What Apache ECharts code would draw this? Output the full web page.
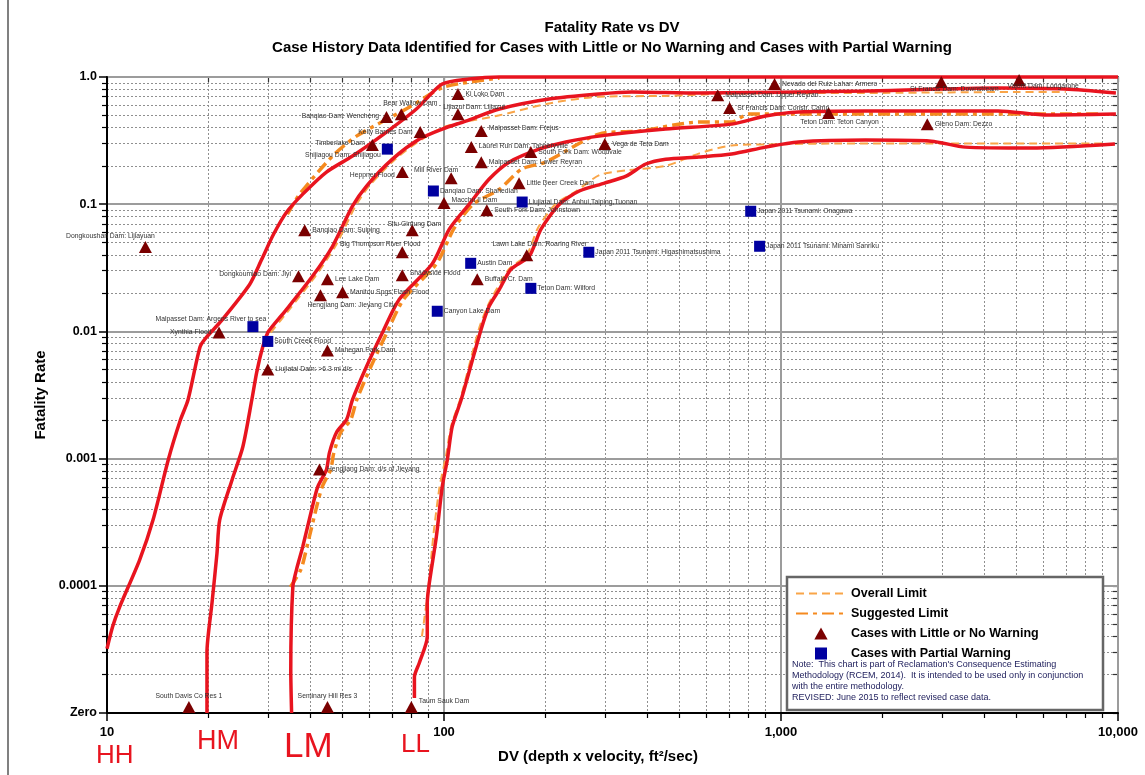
<!DOCTYPE html>
<html>
<head>
<meta charset="utf-8">
<script src="https://cdn.jsdelivr.net/npm/echarts@6/dist/echarts.min.js"></script>
<style>html,body{margin:0;padding:0;background:#fff;}#chart{width:1145px;height:775px;}</style>
</head>
<body>
<div id="chart"></div>
<script>
// ---------- DATA ----------
const ZERO = 1e-5; // plotted on the "Zero" line

const xTickValues = [10, 100, 1000, 10000];
const xTickLabels = ['10', '100', '1,000', '10,000'];
const yTickValues = [1e-5, 1e-4, 1e-3, 1e-2, 1e-1, 1];
const yTickLabels = ['Zero', '0.0001', '0.001', '0.01', '0.1', '1.0'];

// Cases with Little or No Warning
const triNames = ['Dongkoushan Dam: Lijiayuan','Ki Loko Dam','Lijiazui Dam: Lijiazui','Bear Wallow Dam','Banqiao Dam: Wencheng',
  'Kelly Barnes Dam','Timberlake Dam','Heppner Flood','Mill River Dam','Macchu II Dam','South Fork Dam: Johnstown',
  'Malpasset Dam: Frejus','Laurel Run Dam: Tanneryville','Malpasset Dam: Lower Reyran','South Fork Dam: Woodvale',
  'Vega de Tera Dam','Little Deer Creek Dam','Malpasset Dam: Upper Reyran','St Francis Dam: Constr. Camp',
  'Nevado del Ruiz Lahar: Armero','Teton Dam: Teton Canyon','St Francis Dam: Downstream','Gleno Dam: Dezzo',
  'Vajont Dam: Longarone','Situ Gintung Dam','Banqiao Dam: Suiping','Big Thompson River Flood','Dongkoumiao Dam: Jiyi',
  'Lee Lake Dam','Shadyside Flood','Manitou Spgs Flash Flood','Hengjiang Dam: Jieyang City','Xynthia Flood',
  'Mohegan Park Dam','Liujiatai Dam: >6.3 mi d/s','Hengjiang Dam: d/s of Jieyang','Lawn Lake Dam: Roaring River',
  'Buffalo Cr. Dam','South Davis Co Res 1','Seminary Hill Res 3','Taum Sauk Dam'];
const triDV = [13.0,110,110,74.7,67.5,85,61.3,75.2,105,100,134,129,120.5,129,181,300,167,649,704,957,1384,2990,2717,5088,
  80.5,38.6,75.2,37.0,45.1,75.2,50,43.0,21.5,45.1,30,42.7,176,125.5,17.5,45.1,80];
const triFR = [0.046,0.735,0.51,0.51,0.484,0.369,0.292,0.179,0.160,0.102,0.0897,0.376,0.281,0.214,0.257,0.297,0.146,0.72,0.57,
  0.88,0.52,0.913,0.426,0.947,0.0624,0.0624,0.0419,0.0271,0.0257,0.0276,0.0203,0.0192,0.0098,0.00708,0.00502,0.00082,
  0.0396,0.0257,ZERO,ZERO,ZERO];

// Cases with Partial Warning
const sqNames = ['Shijiagou Dam: Shijiagou','Danqiao Dam: Shahedian','Liujiatai Dam: Anhui,Taiping,Tuonan',
  'Japan 2011 Tsunami: Onagawa','Japan 2011 Tsunami: Minami Sanriku','Japan 2011 Tsunami: Higashimatsushima',
  'Austin Dam','Teton Dam: Wilford','Canyon Lake Dam','Malpasset Dam: Argens River to sea','South Creek Flood'];
const sqDV = [67.9,93,170.6,813,864,269,120,181,95.5,27.1,30];
const sqFR = [0.271,0.127,0.104,0.088,0.0467,0.0419,0.0343,0.0218,0.0144,0.0109,0.00834];

// Hand-drawn red curves [DV, fatality rate]
const curveHH = [[10,3.2e-5],[10.4,4.8e-5],[10.9,6.8e-5],[12.5,1.6e-4],[13.7,3.3e-4],[15.2,9.8e-4],[16.5,2.0e-3],[17.4,2.9e-3],
  [18.9,7.6e-3],[19.8,9.1e-3],[21.6,0.0117],[26.5,0.0234],[28.8,0.037],[31.2,0.058],[34.1,0.0865],[38.1,0.12],[44.8,0.179],
  [53.5,0.239],[67.5,0.369],[82.8,0.56],[98.8,0.88],[118.8,0.964],[146,1.0],[10000,1.0]];
const curveHM = [[19.8,1e-5],[19.8,3.0e-5],[20.5,7.4e-5],[21.2,1.8e-4],[21.6,3.3e-4],[23.5,6.8e-4],[25.3,1.24e-3],[26.9,2.9e-3],
  [27.8,4.75e-3],[29.0,7.6e-3],[30.0,9.8e-3],[31.0,0.011],[34.1,0.0149],[40.7,0.0271],[46.7,0.0467],[53.5,0.0964],[58.9,0.139],
  [70.3,0.226],[84.5,0.325],[98.8,0.39],[116,0.45],[146,0.56],[205,0.671],[288,0.735],[361,0.762],[570,0.748],[1780,0.776],
  [4410,0.819],[6963,0.804],[9858,0.748]];
const curveLM = [[35.3,1e-5],[35.1,2.2e-5],[35.6,9.8e-5],[36.5,1.34e-4],[38.1,2.03e-4],[40.7,4.2e-4],[42.2,6.0e-4],[44.8,8.2e-4],
  [45.7,1.11e-3],[48.0,1.61e-3],[51.4,2.03e-3],[53.5,2.9e-3],[58.9,5.3e-3],[65.7,9.8e-3],[73.7,0.0179],[92.3,0.034],
  [103.7,0.0636],[118.8,0.1],[136,0.157],[156,0.214],[191.5,0.271],[230,0.308],[288,0.343],[455,0.39],[714,0.426],
  [900,0.493],[1127,0.53],[1780,0.54],[4410,0.54],[6199,0.502],[9858,0.511]];
const curveLL = [[81.7,1.31e-5],[81.7,1.92e-5],[84.5,2.48e-5],[89.2,3.97e-5],[89.2,7.35e-5],[90.5,1.06e-4],[94.9,2.43e-4],
  [98.8,6.0e-4],[102.3,9.8e-4],[105.8,1.79e-3],[112.5,2.91e-3],[128.9,0.0104],[136,0.0157],[146,0.0214],[158,0.0308],
  [179,0.039],[194,0.0636],[220,0.1],[252,0.127],[298,0.146],[347,0.166],[397,0.207],[455,0.226],[570,0.235],[714,0.248],
  [900,0.281],[1127,0.308],[1780,0.319],[2792,0.313],[3521,0.281],[5523,0.276],[9790,0.297]];

// Orange limit curves (mostly hidden under the red ones)
const suggestedUpper = [[34.3,0.0834],[37.3,0.12],[46.7,0.239],[55.0,0.343],[79.1,0.58],[100,0.834],[146,0.98]];
const overallUpper = [[30.6,0.0098],[34.8,0.0149],[41.5,0.0271],[47.6,0.0467],[54.6,0.0964],[60,0.139],[71.7,0.226],
  [86.2,0.325],[101.6,0.41],[146,0.5],[205,0.62],[288,0.7],[455,0.71],[714,0.74],[2000,0.75],[5000,0.762],[7000,0.762]];
const suggestedLower = [[35.0,9.8e-5],[37.6,1.34e-4],[39.2,2.03e-4],[41.9,4.2e-4],[43.5,6e-4],[46.1,8.2e-4],[47.1,1.11e-3],
  [49.4,1.61e-3],[52.9,2.03e-3],[55.1,2.9e-3],[60.7,5.3e-3],[67.7,9.8e-3],[75.9,0.0179],[95,0.034],[106.8,0.0636],[122,0.1],
  [146,0.131],[170,0.189],[200,0.214],[288,0.356],[380,0.376],[570,0.442],[714,0.442],[800,0.511],[3000,0.511],[9000,0.511]];
const overallLower = [[86,4e-5],[90,1e-4],[93,2.5e-4],[97,6e-4],[101,1e-3],[105,1.8e-3],[112,3e-3],[127,0.0105],[135,0.016],
  [144,0.022],[156,0.031],[176,0.04],[190,0.065],[214,0.1],[245,0.125],[290,0.17],[350,0.185],[455,0.2],[570,0.25],[714,0.29],
  [900,0.295],[1500,0.3],[3000,0.3],[5500,0.3],[9000,0.3]];

// ---------- STYLE ----------
const FONT = '"Liberation Sans", Arial, sans-serif';
const RED = '#e8141f';
const TRI_COLOR = '#7a0000';
const SQ_COLOR = '#0000a0';
// label placement per case: [position, dx, dy]
const labelPlace = {
  'Dongkoushan Dam: Lijiayuan':['top',-35,0], 'Lijiazui Dam: Lijiazui':['top',16,3], 'Bear Wallow Dam':['top',9,-1],
  'Banqiao Dam: Wencheng':['left',0,-1], 'Kelly Barnes Dam':['left',0,0], 'Timberlake Dam':['left',0,-2],
  'Heppner Flood':['left',0,3], 'Mill River Dam':['top',-15,2], 'Macchu II Dam':['right',0,-3],
  'Malpasset Dam: Frejus':['right',0,-3], 'Laurel Run Dam: Tanneryville':['right',0,-1],
  'Teton Dam: Teton Canyon':['bottom',11,-2], 'St Francis Dam: Downstream':['bottom',13,-3],
  'Vajont Dam: Longarone':['bottom',24,-4], 'Situ Gintung Dam':['top',2,4], 'Big Thompson River Flood':['top',-22,2],
  'Dongkoumiao Dam: Jiyi':['left',0,-2], 'Shadyside Flood':['right',0,-2], 'Hengjiang Dam: Jieyang City':['bottom',31,-1],
  'Xynthia Flood':['left',0,0], 'Lawn Lake Dam: Roaring River':['top',13,-1], 'South Davis Co Res 1':['top',0,0],
  'Seminary Hill Res 3':['top',0,0], 'Taum Sauk Dam':['right',0,-6],
  'Shijiagou Dam: Shijiagou':['left',0,6], 'Malpasset Dam: Argens River to sea':['top',-42,2]
};
function pointLabel(name) {
  const p = labelPlace[name] || ['right', 0, 0];
  return { position: p[0], offset: [p[1], p[2]] };
}

// minor (2..9) tick positions in log10 space
function minorLog(fromDec, toDec) {
  const out = [];
  for (let d = fromDec; d < toDec; d++) for (let k = 2; k <= 9; k++) out.push(d + Math.log10(k));
  return out;
}
function allLog(fromDec, toDec) {
  const out = minorLog(fromDec, toDec);
  for (let d = fromDec; d <= toDec; d++) out.push(d);
  return out;
}
function matchLabel(v, vals, labels) {
  for (let i = 0; i < vals.length; i++) if (Math.abs(Math.log10(v) - Math.log10(vals[i])) < 1e-6) return labels[i];
  return '';
}

const chart = echarts.init(document.getElementById('chart'), null, { renderer: 'canvas' });

const redLine = (name, data) => ({
  type: 'line', name: name, data: data, xAxisIndex: 0, yAxisIndex: 0, symbol: 'none', smooth: 0.25,
  clip: false, z: 4, lineStyle: { color: RED, width: 3.5 }, itemStyle: { color: RED }, silent: true
});
const overallLine = data => ({
  type: 'line', name: 'Overall Limit', data: data, xAxisIndex: 0, yAxisIndex: 0, symbol: 'none', smooth: 0.25,
  clip: false, z: 3, lineStyle: { color: '#f9a548', width: 2, type: [8, 5] }, itemStyle: { color: '#f9a548' }
});
const suggestedLine = data => ({
  type: 'line', name: 'Suggested Limit', data: data, xAxisIndex: 0, yAxisIndex: 0, symbol: 'none', smooth: 0.25,
  clip: false, z: 3, lineStyle: { color: '#f58a1f', width: 3.5, type: [12, 5, 4, 5] }, itemStyle: { color: '#f58a1f' }
});

const labelBase = { show: true, formatter: '{b}', fontSize: 6.8, color: '#333', fontFamily: FONT, distance: 1 };
const hiddenIcon = { color: 'rgba(0,0,0,0)', opacity: 0, borderWidth: 0 };

const option = {
  animation: false,
  backgroundColor: '#fff',
  title: [
    { text: 'Fatality Rate vs DV', left: 612, top: 20, textAlign: 'center', padding: 0,
      textStyle: { fontSize: 15, fontWeight: 'bold', color: '#000', fontFamily: FONT } },
    { text: 'Case History Data Identified for Cases with Little or No Warning and Cases with Partial Warning',
      left: 612, top: 40, textAlign: 'center', padding: 0,
      textStyle: { fontSize: 15, fontWeight: 'bold', color: '#000', fontFamily: FONT } }
  ],
  grid: { left: 107, right: 27, top: 77, bottom: 62, containLabel: false },
  legend: {
    left: 790, top: 582, orient: 'vertical', itemWidth: 50, itemHeight: 12, itemGap: 7, z: 10,
    symbolKeepAspect: true,
    textStyle: { fontSize: 12.5, fontWeight: 'bold', color: '#000', fontFamily: FONT },
    data: [
      { name: 'Overall Limit', itemStyle: hiddenIcon },
      { name: 'Suggested Limit', itemStyle: hiddenIcon },
      { name: 'Cases with Little or No Warning', icon: 'path://M5,0L10,9L0,9Z' },
      { name: 'Cases with Partial Warning', icon: 'path://M0,0L10,0L10,10L0,10Z' }],
    selectedMode: false
  },
  xAxis: [
    { type: 'log', logBase: 10, min: 10, max: 10000, position: 'bottom',
      axisLine: { show: true, onZero: false, lineStyle: { color: '#000', width: 2 } },
      axisTick: { show: true, length: 8, lineStyle: { color: '#000', width: 1.5 } },
      axisLabel: { margin: 13, fontSize: 13, fontWeight: 'bold', color: '#000', fontFamily: FONT,
        formatter: v => matchLabel(v, xTickValues, xTickLabels) },
      splitLine: { show: true, lineStyle: { color: '#9c9c9c', width: 2 } }, z: 1 },
    { type: 'value', min: 1, max: 4, position: 'bottom',
      axisLine: { show: false, onZero: false },
      axisTick: { show: true, length: 5, customValues: minorLog(1, 4), lineStyle: { color: '#000', width: 1.2 } },
      axisLabel: { show: false },
      splitLine: { show: true, lineStyle: { color: '#8f8f8f', width: 1, type: [2, 2] } } },
    { type: 'value', min: 1, max: 4, position: 'top',
      axisLine: { show: true, onZero: false, lineStyle: { color: '#555', width: 2 } },
      axisTick: { show: true, inside: true, length: 5, customValues: allLog(1, 4), lineStyle: { color: '#333', width: 1.2 } },
      axisLabel: { show: false }, splitLine: { show: false } }
  ],
  yAxis: [
    { type: 'log', logBase: 10, min: 1e-5, max: 1, position: 'left',
      name: 'Fatality Rate', nameLocation: 'middle', nameGap: 57, nameRotate: 90,
      nameTextStyle: { fontSize: 15, fontWeight: 'bold', color: '#000', fontFamily: FONT },
      axisLine: { show: true, onZero: false, lineStyle: { color: '#000', width: 2 } },
      axisTick: { show: true, length: 8, lineStyle: { color: '#000', width: 1.5 } },
      axisLabel: { margin: 10, fontSize: 12.5, fontWeight: 'bold', color: '#000', fontFamily: FONT,
        formatter: v => matchLabel(v, yTickValues, yTickLabels) },
      splitLine: { show: true, lineStyle: { color: '#9c9c9c', width: 2 } }, z: 1 },
    { type: 'value', min: -5, max: 0, position: 'left',
      axisLine: { show: false, onZero: false },
      axisTick: { show: true, length: 5, customValues: minorLog(-5, 0), lineStyle: { color: '#000', width: 1.2 } },
      axisLabel: { show: false },
      splitLine: { show: true, lineStyle: { color: '#8f8f8f', width: 1, type: [2, 2] } } },
    { type: 'value', min: -5, max: 0, position: 'right',
      axisLine: { show: true, onZero: false, lineStyle: { color: '#555', width: 2 } },
      axisTick: { show: true, inside: true, length: 5, customValues: allLog(-5, 0), lineStyle: { color: '#333', width: 1.2 } },
      axisLabel: { show: false }, splitLine: { show: false } }
  ],
  series: [
    overallLine(overallUpper), overallLine(overallLower),
    suggestedLine(suggestedUpper), suggestedLine(suggestedLower),
    redLine('HH', curveHH), redLine('HM', curveHM), redLine('LM', curveLM), redLine('LL', curveLL),
    { type: 'scatter', name: 'Cases with Little or No Warning', xAxisIndex: 0, yAxisIndex: 0, z: 6, clip: false,
      symbol: 'triangle', symbolSize: [13, 12], itemStyle: { color: TRI_COLOR, opacity: 1 }, label: labelBase,
      data: triNames.map((n, i) => Object.assign({ name: n, value: [triDV[i], triFR[i]],
        label: pointLabel(n) }, triFR[i] === ZERO ? { symbolOffset: [0, -6] } : {})) },
    { type: 'scatter', name: 'Cases with Partial Warning', xAxisIndex: 0, yAxisIndex: 0, z: 6, clip: false,
      symbol: 'rect', symbolSize: 11, itemStyle: { color: SQ_COLOR, opacity: 1 }, label: labelBase,
      data: sqNames.map((n, i) => ({ name: n, value: [sqDV[i], sqFR[i]], label: pointLabel(n) })) }
  ],
  graphic: [
    { type: 'line', shape: { x1: 8, y1: 0, x2: 8, y2: 775 }, style: { stroke: '#808080', lineWidth: 2 }, z: 1 },
    { type: 'rect', shape: { x: 787, y: 577, width: 316, height: 133 }, style: { fill: '#fff', stroke: '#666', lineWidth: 2.5 }, z: 8 },
    { type: 'text', z: 12, style: { x: 792, y: 665, text: "Note:  This chart is part of Reclamation's Consequence Estimating", font: '9px ' + FONT, fill: '#1c1c5a', textVerticalAlign: 'middle', verticalAlign: 'middle' } },
    { type: 'text', z: 12, style: { x: 792, y: 676, text: 'Methodology (RCEM, 2014).  It is intended to be used only in conjunction', font: '9px ' + FONT, fill: '#1c1c5a', textVerticalAlign: 'middle', verticalAlign: 'middle' } },
    { type: 'text', z: 12, style: { x: 792, y: 687, text: 'with the entire methodology.', font: '9px ' + FONT, fill: '#1c1c5a', textVerticalAlign: 'middle', verticalAlign: 'middle' } },
    { type: 'text', z: 12, style: { x: 792, y: 698, text: 'REVISED: June 2015 to reflect revised case data.', font: '9px ' + FONT, fill: '#1c1c5a', textVerticalAlign: 'middle', verticalAlign: 'middle' } },
    { type: 'text', z: 12, style: { x: 598, y: 757, text: 'DV (depth x velocity, ft\u00B2/sec)', font: 'bold 15px ' + FONT, fill: '#000', textAlign: 'center', align: 'center', textVerticalAlign: 'middle', verticalAlign: 'middle' } },
    { type: 'text', z: 12, style: { x: 96, y: 756, text: 'HH', font: '26px ' + FONT, fill: RED, textVerticalAlign: 'middle', verticalAlign: 'middle' } },
    { type: 'text', z: 12, style: { x: 197, y: 742, text: 'HM', font: '27px ' + FONT, fill: RED, textVerticalAlign: 'middle', verticalAlign: 'middle' } },
    { type: 'text', z: 12, style: { x: 284, y: 747, text: 'LM', font: '35px ' + FONT, fill: RED, textVerticalAlign: 'middle', verticalAlign: 'middle' } },
    { type: 'text', z: 12, style: { x: 401, y: 745, text: 'LL', font: '26px ' + FONT, fill: RED, textVerticalAlign: 'middle', verticalAlign: 'middle' } }
  ]
};
chart.setOption(option);
</script>
</body>
</html>
